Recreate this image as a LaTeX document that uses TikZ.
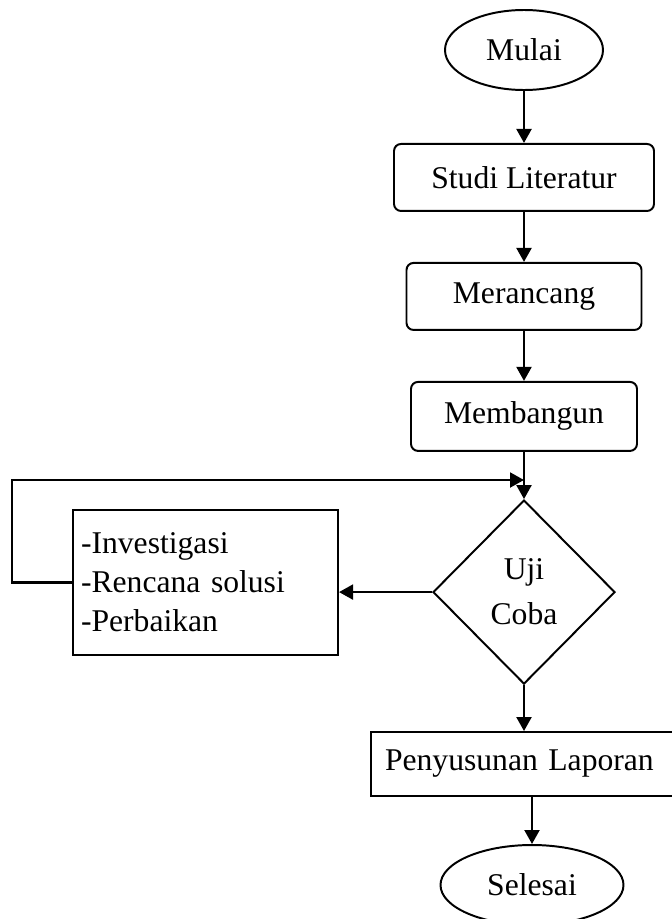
\documentclass[tikz,border=0pt]{standalone}
\usepackage{fontspec}
\setmainfont{Liberation Serif}
\usepackage{tikz}
\usetikzlibrary{shapes.geometric, arrows.meta, positioning}
\tikzset{
  terminal/.style={ellipse, draw=black, line width=1.4pt, minimum width=3.95cm, minimum height=2cm, font=\fontsize{22.5}{27}\selectfont},
  process/.style={rectangle, rounded corners=5pt, draw=black, line width=1.4pt, minimum height=1.7cm, align=center, font=\fontsize{22.5}{27}\selectfont},
  decision/.style={diamond, draw=black, line width=1.4pt, minimum width=4.55cm, minimum height=4.6cm, align=center, inner sep=0pt, font=\fontsize{22.5}{32}\selectfont},
  plainbox/.style={rectangle, draw=black, line width=1.4pt, align=left, font=\fontsize{22.5}{27.7}\selectfont},
  arrow/.style={-{Triangle[length=3.5mm, width=3.7mm]}, line width=1.9pt}
}

\begin{document}
\begin{tikzpicture}[node distance=1.25cm]
  \useasboundingbox (0,0) rectangle (16.8,-22.975);
  \node[terminal] (mulai) at (13.1,-1.25) {Mulai};
  \node[process, below=1.3cm of mulai, minimum width=6.5cm, minimum height=1.675cm] (studi) {Studi Literatur};
  \node[process, below=of studi, minimum width=5.875cm, minimum height=1.675cm] (rancang) {Merancang};
  \node[process, below=of rancang, minimum width=5.65cm, minimum height=1.725cm] (bangun) {Membangun};
  \node[decision, below=1.18cm of bangun] (uji) {Uji\\Coba};
  \node[plainbox, left=2.325cm of uji, yshift=0.24cm, text width=6.225cm, minimum height=3.625cm, inner xsep=0.2cm] (perbaikan) {-Investigasi\\-Rencana solusi\\-Perbaikan};
  \node[plainbox, below=1.15cm of uji, xshift=0.775cm, text width=8.5cm, minimum height=1.6cm, inner xsep=0.35cm] (laporan) {Penyusunan Laporan};
  \node[terminal, below=1.175cm of laporan, xshift=-0.575cm, minimum width=4.575cm] (selesai) {Selesai};
  \coordinate (sudut) at (0.3,-12.0);
  \draw[arrow] (mulai.south) -- (mulai.south |- studi.north);
  \draw[arrow] (mulai.south |- studi.south) -- (mulai.south |- rancang.north);
  \draw[arrow] (mulai.south |- rancang.south) -- (mulai.south |- bangun.north);
  \draw[arrow] (mulai.south |- bangun.south) -- (uji.north);
  \draw[arrow] (uji.west) -- (uji.west -| perbaikan.east);
  \draw[arrow] (perbaikan.west) -| (sudut) -- (sudut -| uji.north);
  \draw[arrow] (uji.south) -- (uji.south |- laporan.north);
  \draw[arrow] (selesai.north |- laporan.south) -- (selesai.north);
\end{tikzpicture}
\end{document}
